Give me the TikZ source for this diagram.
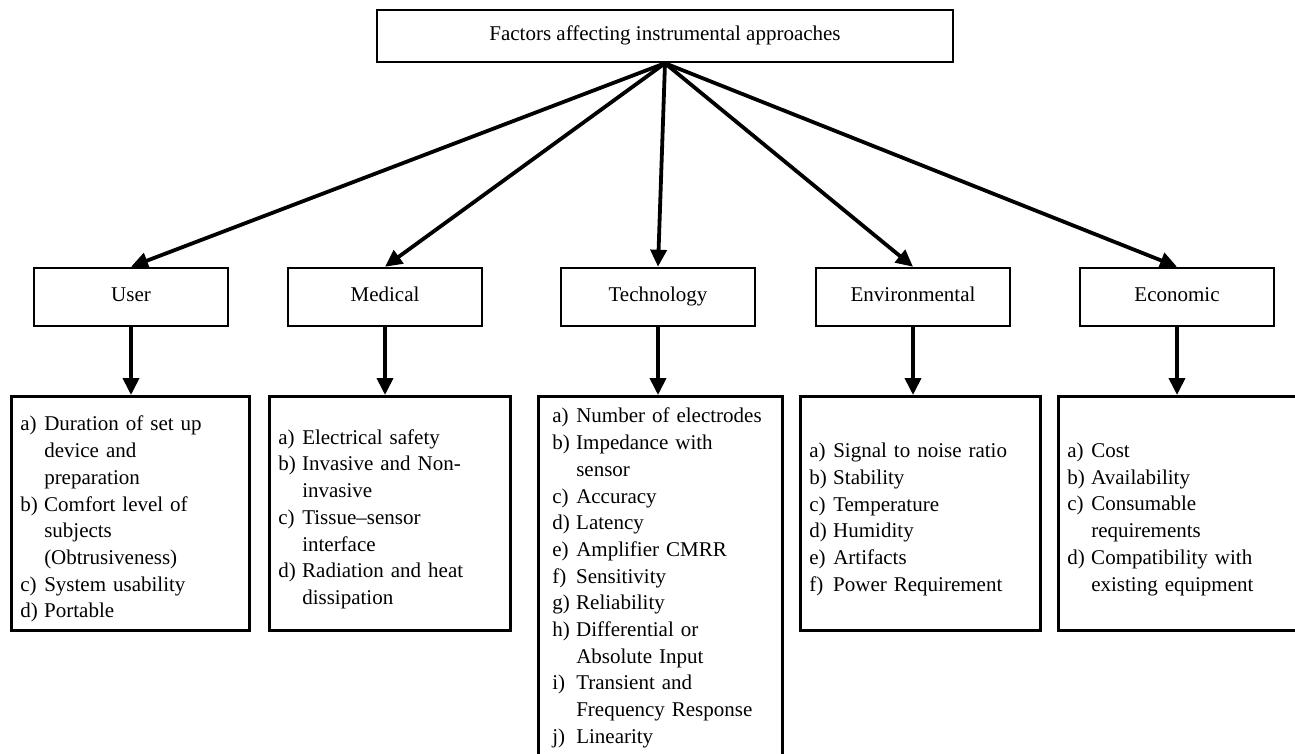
\documentclass[tikz,border=0pt]{standalone}
\usepackage{fontspec}
\setmainfont{Liberation Serif}
\usetikzlibrary{arrows.meta}
\newcommand\lItem[2]{\par\hangindent=24pt\hangafter=1\noindent\makebox[24pt][l]{#1}#2\par}
\begin{document}
\begin{tikzpicture}[x=1pt,y=-1pt,
  font=\fontsize{21}{26.7}\selectfont,
  box/.style={draw, line width=2.5pt, inner sep=0pt, align=center, text height=14pt, text depth=5pt},
  cat/.style={box, minimum width=194pt, minimum height=58pt},
  detail/.style={draw, line width=2.5pt, inner xsep=9pt, inner ysep=4pt, anchor=north west,
    execute at begin node={\raggedright\parindent=0pt\parskip=0pt}},
  arr/.style={line width=3.8pt, -{Triangle[length=17pt,width=16pt]}}]
\useasboundingbox (0,0) rectangle (1295,754);
% top
\node[box, minimum width=576pt, minimum height=52pt] (top) at (665,36) {Factors affecting instrumental approaches};
% categories
\node[cat] (user) at (131,297) {User};
\node[cat] (med) at (385,297) {Medical};
\node[cat] (tech) at (658,297) {Technology};
\node[cat] (env) at (913,297) {Environmental};
\node[cat] (eco) at (1177,297) {Economic};
% details
\node[detail, text width=220pt, minimum height=234pt] (userd) at (10,395) {%
\lItem{a)}{Duration of set up\newline device and\newline preparation}
\lItem{b)}{Comfort level of\newline subjects\newline (Obtrusiveness)}
\lItem{c)}{System usability}
\lItem{d)}{Portable}};
\node[detail, text width=223pt, minimum height=234pt] (medd) at (268,395) {%
\lItem{a)}{Electrical safety}
\lItem{b)}{Invasive and Non-\newline invasive}
\lItem{c)}{Tissue–sensor\newline interface}
\lItem{d)}{Radiation and heat\newline dissipation}};
\node[detail, text width=216pt, inner xsep=14pt, inner ysep=0pt] (techd) at (537,395) {%
\lItem{a)}{Number of electrodes}
\lItem{b)}{Impedance with\newline sensor}
\lItem{c)}{Accuracy}
\lItem{d)}{Latency}
\lItem{e)}{Amplifier CMRR}
\lItem{f)}{Sensitivity}
\lItem{g)}{Reliability}
\lItem{h)}{Differential or\newline Absolute Input}
\lItem{i)}{Transient and\newline Frequency Response}
\lItem{j)}{Linearity}
\noindent\rule{0pt}{40pt}\par};
\node[detail, text width=222pt, minimum height=234pt] (envd) at (799,395) {%
\lItem{a)}{Signal to noise ratio}
\lItem{b)}{Stability}
\lItem{c)}{Temperature}
\lItem{d)}{Humidity}
\lItem{e)}{Artifacts}
\lItem{f)}{Power Requirement}};
\node[detail, text width=222pt, minimum height=234pt] (ecod) at (1057,395) {%
\lItem{a)}{Cost}
\lItem{b)}{Availability}
\lItem{c)}{Consumable\newline requirements}
\lItem{d)}{Compatibility with\newline existing equipment}};
% arrows from top
\coordinate (apex) at (top.south);
\foreach \n in {user,med,tech,env,eco}
  \draw[arr] (apex) -- (\n.north);
% arrows down
\draw[arr] (user.south) -- (user.south |- userd.north);
\draw[arr] (med.south) -- (med.south |- medd.north);
\draw[arr] (tech.south) -- (tech.south |- techd.north);
\draw[arr] (env.south) -- (env.south |- envd.north);
\draw[arr] (eco.south) -- (eco.south |- ecod.north);
\end{tikzpicture}
\end{document}
